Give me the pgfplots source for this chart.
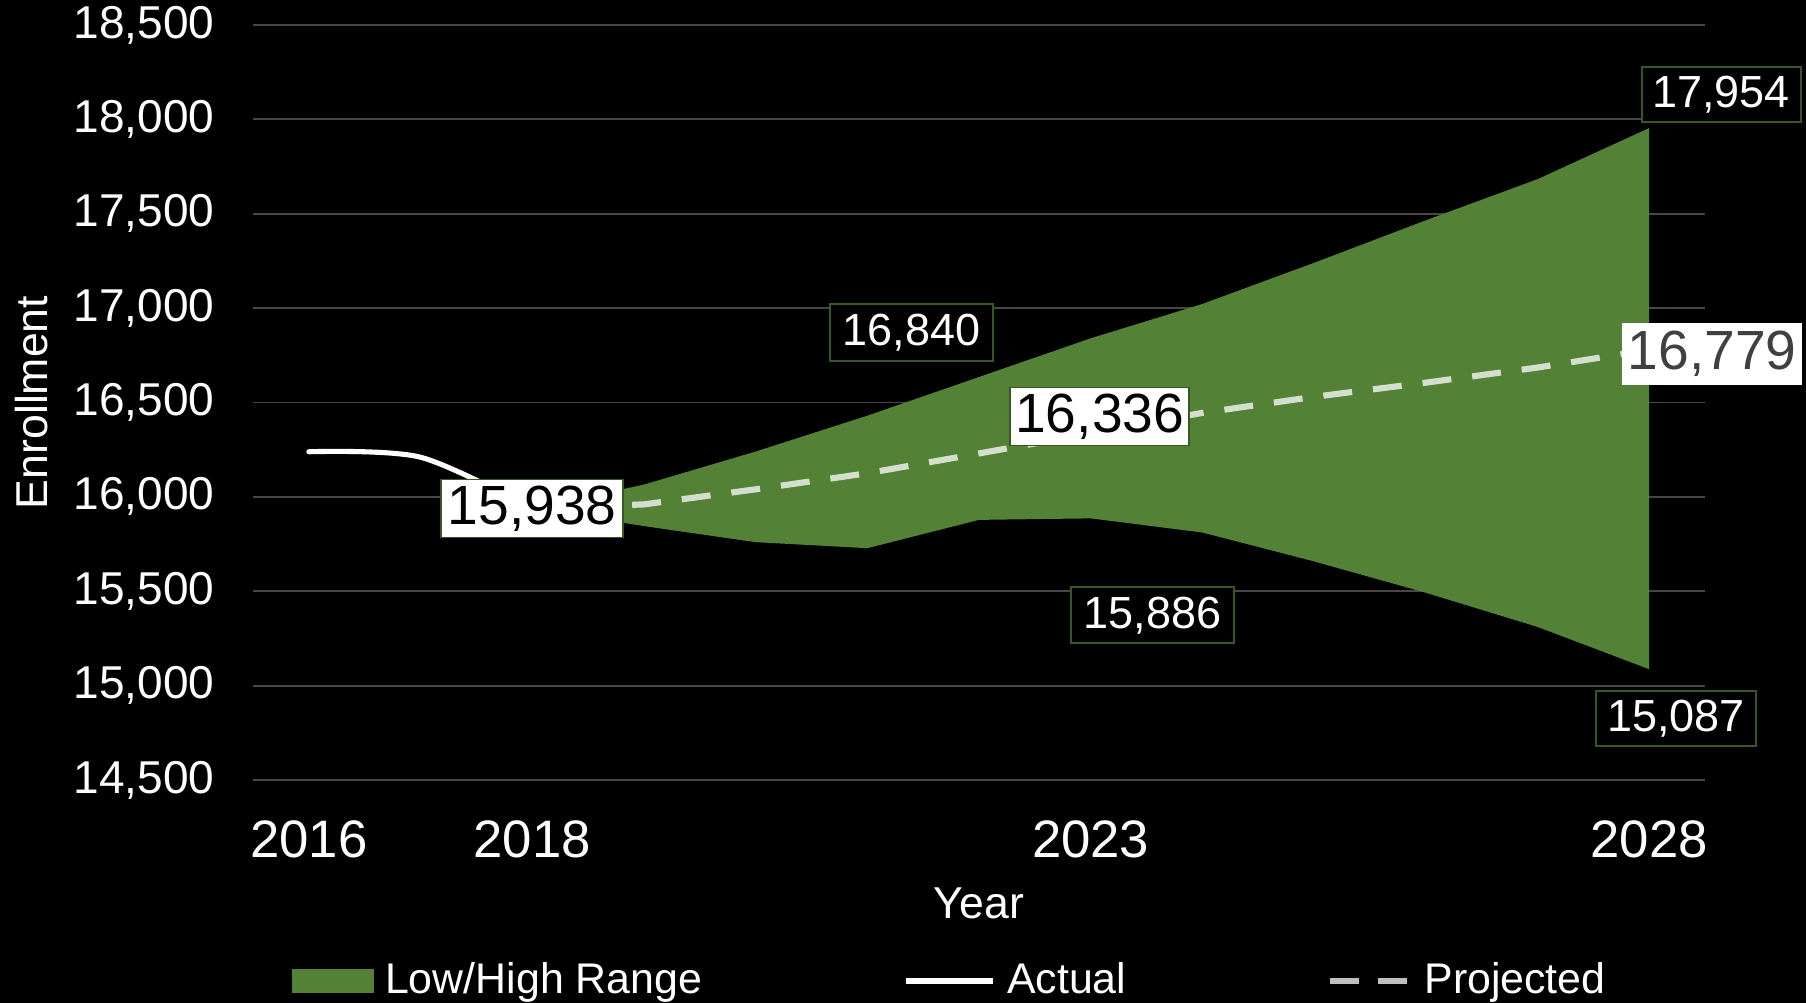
\documentclass[border=0pt]{standalone}
\usepackage{fontspec}
\setmainfont{Liberation Sans}
\usepackage{pgfplots}
\pgfplotsset{compat=1.18}
\usepgfplotslibrary{fillbetween}
\usepackage{pgfplotstable}
\definecolor{rangegreen}{HTML}{538135}
\definecolor{labelgreen}{HTML}{385723}
\definecolor{gridgray}{HTML}{474747}
\definecolor{darktext}{HTML}{404040}

\pgfplotstableread{
year high low proj
2018 15938 15938 15938
2019 16065 15845 15960
2020 16240 15760 16040
2021 16430 15728 16125
2022 16635 15878 16230
2023 16840 15886 16336
2024 17022 15811 16445
2025 17240 15658 16530
2026 17465 15492 16605
2027 17683 15311 16685
2028 17954 15087 16779
}\projtable

\pgfplotstableread{
year actual
2016 16239
2017 16210
2018 15938
}\actualtable

\begin{document}
\begin{tikzpicture}
\begin{axis}[
  set layers,
  at={(0,0)}, anchor=south west,
  scale only axis, width=14.52cm, height=7.55cm,
  xmin=2015.5, xmax=2028.5, ymin=14500, ymax=18500,
  xtick={2016,2018,2023,2028}, ytick distance=500,
  axis line style={draw=none},
  tick style={draw=none},
  ymajorgrids, xmajorgrids=false,
  grid style={gridgray, line width=0.55pt},
  scaled y ticks=false,
  /pgf/number format/assume math mode=true,
  xticklabel style={/pgf/number format/1000 sep={}, font=\fontsize{15}{18}\selectfont, text=white, yshift=-0.28cm},
  yticklabel style={font=\fontsize{13.1}{15}\selectfont, text=white, xshift=-0.26cm},
  xlabel={Year}, ylabel={Enrollment},
  xlabel style={at={(axis description cs:0.5,-0.163)}, anchor=center, font=\fontsize{12.7}{15}\selectfont, text=white},
  ylabel style={at={(axis description cs:-0.1522,0.5)}, anchor=center, font=\fontsize{12.7}{15}\selectfont, text=white},
  clip=false,
  legend columns=3,
  legend style={at={(axis description cs:0.0262,-0.2662)}, anchor=west, draw=none, fill=none,
    inner sep=0pt, font=\fontsize{12.2}{14}\selectfont, text=white, nodes={inner sep=0pt},
    /tikz/every odd column/.append style={column sep=0.11cm},
    /tikz/every even column/.append style={column sep=2.01cm}},
]
\begin{pgfonlayer}{axis background}
\fill[black] (axis description cs:-0.17424,-0.29536) rectangle (axis description cs:1.06956,1.03311);
\end{pgfonlayer}
\addplot[name path=high, draw=none, forget plot] table[x=year,y=high]{\projtable};
\addplot[name path=low, draw=none, forget plot] table[x=year,y=low]{\projtable};
\addplot[fill=rangegreen, draw=none, forget plot] fill between[of=high and low];
\addplot[white, line width=1.45pt, line cap=round, smooth, forget plot] table[x=year,y=actual]{\actualtable};
\addplot[white, draw opacity=0.75, line width=1.75pt, dash pattern=on 0.29cm off 0.21cm, forget plot] table[x=year,y=proj]{\projtable};

\addlegendimage{legend image code/.code={\fill[rangegreen] (0cm,-0.11cm) rectangle (0.81cm,0.11cm);}}
\addlegendentry{Low/High Range}
\addlegendimage{legend image code/.code={\draw[white, line width=1.7pt] (0cm,0cm) -- (0.87cm,0cm);}}
\addlegendentry{Actual}
\addlegendimage{legend image code/.code={\draw[white, draw opacity=0.75, line width=1.75pt, dash pattern=on 0.29cm off 0.19cm] (0cm,0cm) -- (0.8cm,0cm);}}
\addlegendentry{Projected}

% data labels
\node[draw=labelgreen, line width=0.5pt, fill=white, text=black, inner sep=0pt, minimum width=1.82cm, minimum height=0.58cm, font=\fontsize{15.7}{18}\selectfont]
  at (axis cs:2018,15938) {15,938};
\node[draw=labelgreen, line width=0.5pt, fill=white, text=black, inner sep=0pt, minimum width=1.79cm, minimum height=0.58cm, font=\fontsize{15.7}{18}\selectfont, xshift=0.09cm, yshift=0.17cm]
  at (axis cs:2023,16336) {16,336};
\node[fill=white, text=darktext, inner sep=0pt, minimum width=1.80cm, minimum height=0.62cm, font=\fontsize{15.7}{18}\selectfont, xshift=0.63cm, yshift=-0.04cm]
  at (axis cs:2028,16779) {16,779};
\node[draw=labelgreen, line width=0.5pt, fill=black, text=white, inner sep=0pt, minimum width=1.63cm, minimum height=0.57cm, font=\fontsize{12.8}{15}\selectfont, xshift=-1.79cm, yshift=0.06cm]
  at (axis cs:2023,16840) {16,840};
\node[draw=labelgreen, line width=0.5pt, fill=black, text=white, inner sep=0pt, minimum width=1.63cm, minimum height=0.56cm, font=\fontsize{12.8}{15}\selectfont, xshift=0.62cm, yshift=-0.97cm]
  at (axis cs:2023,15886) {15,886};
\node[draw=labelgreen, line width=0.5pt, fill=black, text=white, inner sep=0pt, minimum width=1.59cm, minimum height=0.55cm, font=\fontsize{12.8}{15}\selectfont, xshift=0.72cm, yshift=0.335cm]
  at (axis cs:2028,17954) {17,954};
\node[draw=labelgreen, line width=0.5pt, fill=black, text=white, inner sep=0pt, minimum width=1.60cm, minimum height=0.55cm, font=\fontsize{12.8}{15}\selectfont, xshift=0.27cm, yshift=-0.495cm]
  at (axis cs:2028,15087) {15,087};
\end{axis}
\pgfresetboundingbox
\useasboundingbox (-2.53,-2.23) rectangle (15.53,7.80);
\end{tikzpicture}
\end{document}
